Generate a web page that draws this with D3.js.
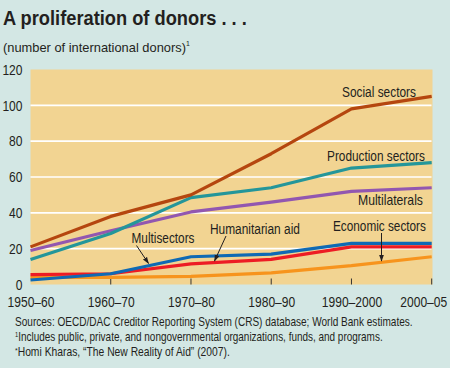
<!DOCTYPE html>
<html><head><meta charset="utf-8">
<script src="https://cdn.jsdelivr.net/npm/d3@7"></script>
<style>
html,body{margin:0;padding:0;background:#d3e7e4;}
svg{display:block;}
text{font-family:"Liberation Sans","Arial",sans-serif;fill:#231f20;}
</style></head>
<body>
<svg id="chart" width="450" height="368"></svg>
<script>
const categories = ["1950–60","1960–70","1970–80","1980–90","1990–2000","2000–05"];
const socialSectors = [21, 38, 50, 73, 98, 105];
const productionSectors = [14, 28.5, 48.5, 54, 65, 68];
const multilaterals = [19, 30, 40.5, 46, 52, 54];
const multisectors = [2.5, 6, 15.5, 17, 23, 23];
const humanitarianAid = [5.5, 6, 11.5, 14, 21, 21];
const economicSectors = [4, 4, 4.5, 6.5, 10.5, 15.5];
const yTicks = [0, 20, 40, 60, 80, 100, 120];

const series = [
  {name:"Economic sectors", values:economicSectors, color:"#f7941d"},
  {name:"Humanitarian aid", values:humanitarianAid, color:"#ed1c24"},
  {name:"Multisectors", values:multisectors, color:"#0f6ab4"},
  {name:"Multilaterals", values:multilaterals, color:"#9257b0"},
  {name:"Production sectors", values:productionSectors, color:"#24969a"},
  {name:"Social sectors", values:socialSectors, color:"#b5460f"}
];

const svg = d3.select("#chart");
const m = {left:30.5, right:432.5, top:69.5, bottom:284.5};
const x = d3.scalePoint().domain(categories).range([m.left, 431.7]);
const y = d3.scaleLinear().domain([0,120]).range([m.bottom, m.top]);

// place a text at (px,py) and condense it horizontally to width w
function fitText(sel, px, py, w){
  const n = sel.node().getComputedTextLength();
  sel.attr("x",0).attr("y",0).attr("transform",`translate(${px},${py}) scale(${w/n},1)`);
  return sel;
}

// title
fitText(svg.append("text").attr("font-size",21).attr("font-weight","bold")
  .text("A proliferation of donors . . ."), 3, 25, 244);
const sub = svg.append("text").attr("font-size",13).attr("fill","#231f20");
sub.append("tspan").text("(number of international donors)");
sub.append("tspan").attr("font-size",7).attr("dy",-6).text("1");
fitText(sub, 3, 52, 187);

// plot background
svg.append("rect").attr("x",m.left).attr("y",m.top).attr("width",m.right-m.left).attr("height",m.bottom-m.top).attr("fill","#f2d492");

// grid
svg.append("g").selectAll("line").data(yTicks.filter(d=>d>0 && d<120)).join("line")
  .attr("x1",m.left).attr("x2",m.right-1).attr("y1",d=>y(d)).attr("y2",d=>y(d))
  .attr("stroke","#ffffff").attr("stroke-width",1.6);

// y axis labels
const yAxis = d3.axisLeft(y).tickValues(yTicks).tickSize(0).tickPadding(8);
const gy = svg.append("g").attr("transform",`translate(${m.left},0)`).call(yAxis);
gy.select(".domain").remove();
gy.selectAll("text").attr("font-size",15).attr("fill","#333").style("font-family",'"Liberation Sans",sans-serif')
  .each(function(d){
    const t = d3.select(this);
    const n = this.getComputedTextLength();
    t.attr("x",0).attr("transform",`translate(-8,0) scale(${String(d).length*6.7/n},1)`);
  });

// x axis
const xAxis = d3.axisBottom(x).tickSize(0).tickPadding(12);
const gx = svg.append("g").attr("transform",`translate(0,${m.bottom})`).call(xAxis);
gx.select(".domain").remove();
gx.selectAll("text").attr("font-size",15).attr("fill","#333").style("font-family",'"Liberation Sans",sans-serif')
  .each(function(d,i){
    const t = d3.select(this);
    const n = this.getComputedTextLength();
    const s = d.length*6.7/n;
    if(i===categories.length-1){
      t.attr("text-anchor","end").attr("transform",`translate(15,0) scale(${s},1)`);
    } else {
      t.attr("transform",`scale(${s},1)`);
    }
  });
// inward ticks
svg.append("g").selectAll("line").data(categories.slice(1)).join("line")
  .attr("x1",d=>x(d)).attr("x2",d=>x(d)).attr("y1",m.bottom-6).attr("y2",m.bottom)
  .attr("stroke","#333").attr("stroke-width",1);

// lines
const line = d3.line().x((d,i)=>x(categories[i])).y(d=>y(d)).curve(d3.curveLinear);
svg.append("g").selectAll("path").data(series).join("path")
  .attr("d",d=>line(d.values)).attr("fill","none").attr("stroke",d=>d.color)
  .attr("stroke-width",3.2).attr("stroke-linejoin","round").attr("stroke-linecap","butt");

// labels
const lab = (t,xx,yy,w)=>fitText(svg.append("text").attr("font-size",14.5).attr("fill","#231f20").text(t), xx, yy, w);
lab("Social sectors",342,97,74);
lab("Production sectors",327,161,98);
lab("Multilaterals",358,205,65);
lab("Multisectors",131.5,242.5,63);
lab("Humanitarian aid",210,233.5,90);
lab("Economic sectors",333,231,93);

// arrows
const defs = svg.append("defs");
defs.append("marker").attr("id","ah").attr("viewBox","0 0 10 10").attr("refX",9).attr("refY",5)
  .attr("markerWidth",7).attr("markerHeight",7).attr("orient","auto")
  .append("path").attr("d","M0,1.5 L10,5 L0,8.5 Z").attr("fill","#231f20");
const arrow = (x1,y1,x2,y2)=>svg.append("line").attr("x1",x1).attr("y1",y1).attr("x2",x2).attr("y2",y2)
  .attr("stroke","#231f20").attr("stroke-width",1).attr("marker-end","url(#ah)");
arrow(136.5,245.5,148.5,263.5);
arrow(226,236,214.5,261);
arrow(381.5,233,381.5,261);

// footer
fitText(svg.append("text").attr("font-size",12)
  .text("Sources: OECD/DAC Creditor Reporting System (CRS) database; World Bank estimates."), 15, 326, 398);
const f2 = svg.append("text").attr("font-size",12);
f2.append("tspan").attr("font-size",7).attr("dy",-4).text("1");
f2.append("tspan").attr("dy",4).text("Includes public, private, and nongovernmental organizations, funds, and programs.");
fitText(f2, 15, 341, 368);
const f3 = svg.append("text").attr("font-size",12);
f3.append("tspan").attr("font-size",8).attr("dy",-3).text("*");
f3.append("tspan").attr("dy",3).text("Homi Kharas, “The New Reality of Aid” (2007).");
fitText(f3, 15, 356, 215);
</script>
</body></html>
